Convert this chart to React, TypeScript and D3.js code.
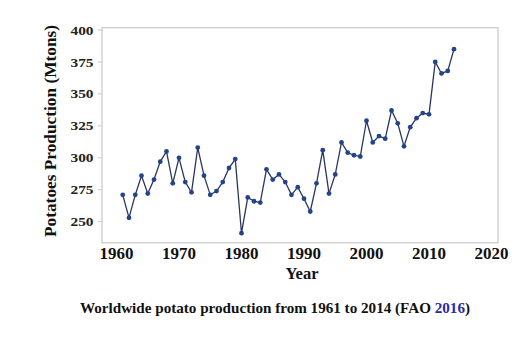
import React from 'react';
import * as d3 from 'd3';

const W = 522;
const H = 342;

// potato production, Mtons
const years = d3.range(1961, 2015);
const production = [
  271, 253, 271, 286, 272, 283, 297, 305, 280, 300,
  281, 273, 308, 286, 271, 274, 281, 292, 299, 241,
  269, 266, 265, 291, 283, 287, 281, 271, 277, 268,
  258, 280, 306, 272, 287, 312, 304, 302, 301, 329,
  312, 317, 315, 337, 327, 309, 324, 331, 335, 334,
  375, 366, 368, 385,
];
const yTicks = [250, 275, 300, 325, 350, 375, 400];
const xTicks = [1960, 1970, 1980, 1990, 2000, 2010, 2020];

const font = '"Liberation Serif", "Times New Roman", serif';

const App = () => {
  const x = d3.scaleLinear().domain([1960, 2020]).range([116.5, 491.5]);
  const y = d3.scaleLinear().domain([250, 400]).range([221.7, 30]);

  const left = 102;
  const right = 498;
  const top = y(401.8);
  const bottom = y(233.5);

  const line = d3.line<number>()
    .x((d, i) => x(years[i]))
    .y(d => y(d));

  return (
    <svg width={W} height={H} style={{position: 'absolute', left: 0, top: 0, background: '#fff'}}>
      <rect x={left} y={top} width={right - left} height={bottom - top} fill="none" stroke="#c8c8c8" strokeWidth={1.2} />
      {yTicks.map(t => (
        <g key={t}>
          <line x1={left - 4} x2={left} y1={y(t)} y2={y(t)} stroke="#c8c8c8" />
          <text x={93.5} y={y(t)} dy="0.35em" textAnchor="end" fontFamily={font} fontWeight="bold" fontSize={13}
            textLength={23} lengthAdjust="spacingAndGlyphs" fill="#222">{t}</text>
        </g>
      ))}
      {xTicks.map(t => (
        <text key={t} x={x(t)} y={259} textAnchor="middle" fontFamily={font} fontWeight="bold" fontSize={17} fill="#111">{t}</text>
      ))}
      <text x={302} y={278.5} textAnchor="middle" fontFamily={font} fontWeight="bold" fontSize={16.5} fill="#111">Year</text>
      <text transform={`translate(55.5,131) rotate(-90)`} textAnchor="middle" fontFamily={font} fontWeight="bold" fontSize={16.5}
        textLength={212} lengthAdjust="spacingAndGlyphs" fill="#111">Potatoes Production (Mtons)</text>
      <path d={line(production) || ''} fill="none" stroke="#2a3560" strokeWidth={1.3} />
      {production.map((v, i) => (
        <circle key={i} cx={x(years[i])} cy={y(v)} r={2.4} fill="#22448a" />
      ))}
      <text x={80} y={313} fontFamily={font} fontWeight="bold" fontSize={14}
        textLength={390} lengthAdjust="spacingAndGlyphs" fill="#111">
        Worldwide potato production from 1961 to 2014 (FAO <tspan fill="#2a2aa8">2016</tspan>)
      </text>
    </svg>
  );
};

export default App;
